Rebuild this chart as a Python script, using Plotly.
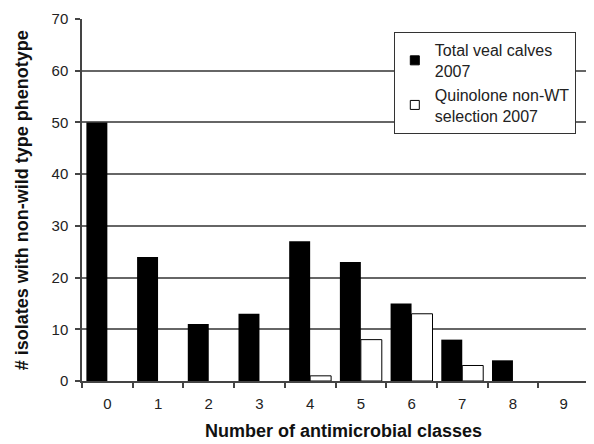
import plotly.graph_objects as go

categories = ["0", "1", "2", "3", "4", "5", "6", "7", "8", "9"]
total_veal = [50, 24, 11, 13, 27, 23, 15, 8, 4, 0]
quinolone = [0, 0, 0, 0, 1, 8, 13, 3, 0, 0]
series_names = ["Total veal calves<br>2007", "Quinolone non-WT<br>selection 2007"]

FONT = "Liberation Sans, Arial, sans-serif"

fig = go.Figure()
fig.add_trace(go.Bar(x=categories, y=[v if v else None for v in total_veal],
                     name=series_names[0], showlegend=False,
                     marker=dict(color="black", line=dict(width=0))))
fig.add_trace(go.Bar(x=categories, y=[v if v else None for v in quinolone],
                     name=series_names[1], showlegend=False,
                     marker=dict(color="white", line=dict(color="black", width=1))))
# legend entries with small square symbols
fig.add_trace(go.Scatter(x=[None], y=[None], mode="markers", name=series_names[0],
                         marker=dict(symbol="square", size=9, color="black",
                                     line=dict(color="black", width=1))))
fig.add_trace(go.Scatter(x=[None], y=[None], mode="markers", name=series_names[1],
                         marker=dict(symbol="square", size=9, color="white",
                                     line=dict(color="black", width=1))))

fig.update_layout(
    width=586, height=436,
    margin=dict(l=74, r=5, t=11, b=63),
    paper_bgcolor="white", plot_bgcolor="white",
    barmode="group", bargap=0.173, bargroupgap=0,
    font=dict(family=FONT, size=15, color="#222"),
    legend=dict(x=0.615, y=0.964, xanchor="left", yanchor="top",
                bordercolor="#333", borderwidth=1, bgcolor="white",
                font=dict(size=16, color="#222"), itemwidth=30),
    xaxis=dict(showline=True, linecolor="#444", linewidth=1.5,
               ticks="outside", tickson="boundaries", ticklen=5, tickcolor="#444",
               tickwidth=1.5, ticklabelstandoff=8,
               showgrid=False, automargin=False),
    yaxis=dict(range=[0, 70], dtick=10,
               showline=True, linecolor="#444", linewidth=1.5,
               ticks="outside", ticklen=5, tickcolor="#444", tickwidth=1.5,
               ticklabelstandoff=4,
               showgrid=True, gridcolor="#666", gridwidth=1.6, zeroline=False,
               automargin=False),
    annotations=[
        dict(text="<b>Number of antimicrobial classes</b>", xref="paper", yref="paper",
             x=0.515, y=-0.172, xanchor="center", yanchor="bottom", showarrow=False,
             font=dict(family=FONT, size=18, color="#111")),
        dict(text="<b># isolates with non-wild type phenotype</b>", xref="paper", yref="paper",
             x=-0.118, y=0.5, xanchor="center", yanchor="middle", textangle=-90,
             showarrow=False, font=dict(family=FONT, size=18, color="#111")),
    ],
)

fig.write_html("out.html")
